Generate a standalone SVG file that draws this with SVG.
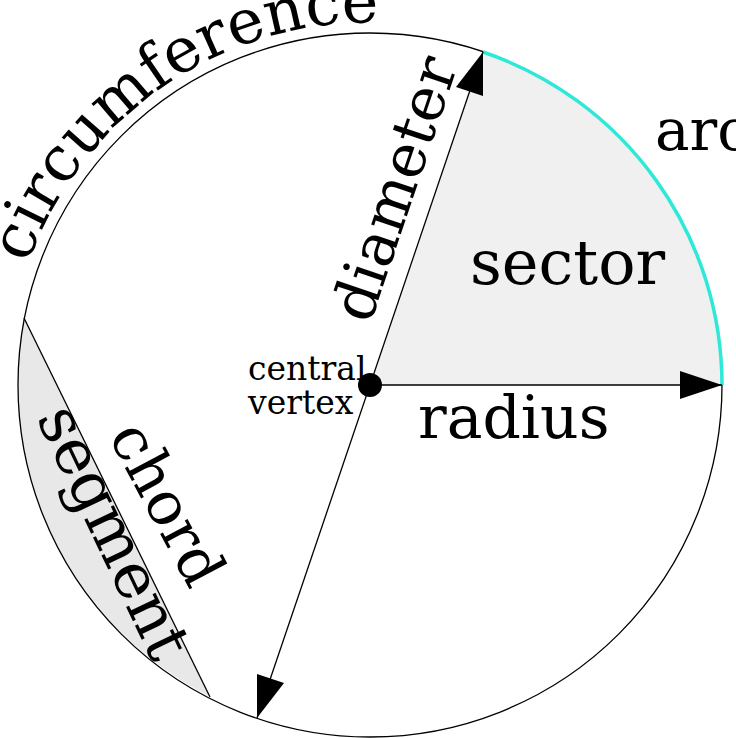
<svg xmlns="http://www.w3.org/2000/svg" width="736" height="738" viewBox="0 0 736 738">
<style>
text{font-family:"DejaVu Serif",serif;fill:#000}
.ln{stroke:#000;stroke-width:1.3;fill:none}
</style>
<defs>
<path id="cp" d="M28,264 A362,362 0 0 1 420,26"/>
</defs>
<rect width="736" height="738" fill="#fff"/>
<g id="sector"><path d="M370,385 L483,52 A352,352 0 0 1 722,385 Z" fill="#f0f0f0"/></g>
<g id="segment"><path d="M24,318 A352,352 0 0 0 210,697 Z" fill="#e8e8e8"/></g>
<g id="circle"><circle cx="370" cy="385" r="352" class="ln"/></g>
<g id="arc"><path d="M483,52 A352,352 0 0 1 722,385" fill="none" stroke="#2ee8d8" stroke-width="3.5"/></g>
<g id="connectors">
<line x1="370" y1="385" x2="722" y2="385" class="ln"/><path d="M722,385 L680,371 L680,399 Z"/>
<line x1="483" y1="52" x2="257" y2="718" class="ln"/>
<path d="M483,52 L483,96 L456,87 Z"/><path d="M257,718 L257,674 L284,683 Z"/>
<line x1="24" y1="318" x2="210" y2="697" class="ln"/>
</g>
<g id="center"><circle cx="370" cy="385" r="12"/></g>
<g id="labels">
<text font-size="62"><textPath href="#cp">circumference</textPath></text>
<text font-size="60" transform="translate(370,325) rotate(-71.3)">diameter</text>
<text font-size="58" x="655" y="150">arc</text>
<text font-size="62" x="470" y="284">sector</text>
<text font-size="60" x="418" y="438">radius</text>
<text font-size="33" x="248" y="380">central</text>
<text font-size="33" x="248" y="414">vertex</text>
<text font-size="60" transform="translate(108,436) rotate(62)">chord</text>
<text font-size="63" transform="translate(36,418) rotate(64.5)">segment</text>
</g>
</svg>
